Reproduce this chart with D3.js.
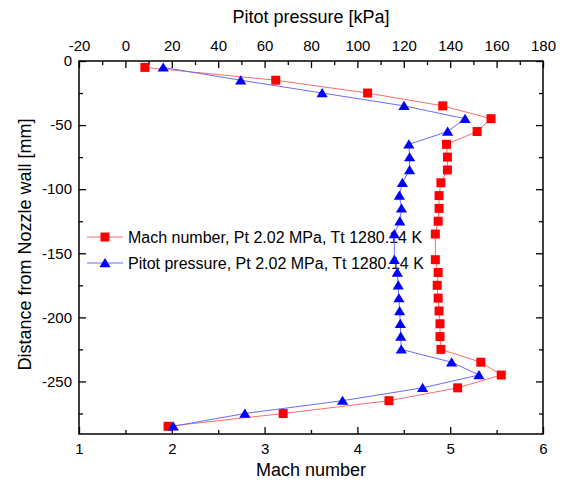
<!DOCTYPE html>
<html>
<head>
<meta charset="utf-8">
<script src="https://cdn.jsdelivr.net/npm/d3@7"></script>
<style>
  body { margin: 0; background: #fff; }
  text { font-family: "Liberation Sans", Arial, sans-serif; fill: #000; }
</style>
</head>
<body>
<script>
// ---- data ----
const depth = [-5, -15, -25, -35, -45, -55, -65, -75, -85, -95, -105, -115, -125, -135,
  -155, -165, -175, -185, -195, -205, -215, -225, -235, -245, -255, -265, -275, -285];

const mach = [1.71, 3.12, 4.11, 4.92, 5.44, 5.29, 4.96, 4.97, 4.97, 4.90, 4.88, 4.88, 4.87, 4.84,
  4.84, 4.87, 4.86, 4.87, 4.88, 4.89, 4.89, 4.90, 5.33, 5.55, 5.08, 4.34, 3.20, 1.96];

const pitot = [16.3, 49.7, 84.8, 120.1, 146.4, 138.9, 122.2, 122.5, 122.5, 119.4, 118.1, 119.0, 118.3, 115.9,
  115.9, 117.2, 117.6, 117.9, 118.2, 118.5, 118.7, 118.9, 140.6, 152.4, 128.1, 93.6, 51.5, 20.6];

const machTicks = [1, 2, 3, 4, 5, 6];
const pitotTicks = [-20, 0, 20, 40, 60, 80, 100, 120, 140, 160, 180];
const depthTicks = [0, -50, -100, -150, -200, -250];

const legendLabels = [
  'Mach number, Pt 2.02 MPa, Tt 1280.14 K',
  'Pitot pressure, Pt 2.02 MPa, Tt 1280.14 K'
];

// ---- layout ----
const W = 564, H = 490;
const m = { left: 79, right: 543, top: 61, bottom: 434 };

const svg = d3.select('body').append('svg')
  .attr('width', W)
  .attr('height', H);

const x = d3.scaleLinear().domain([1, 6]).range([m.left, m.right]);
const xp = d3.scaleLinear().domain([-20, 180]).range([m.left, m.right]);
const y = d3.scaleLinear().domain([-291, 0]).range([m.bottom, m.top]);

const red = '#ff0000', redLine = '#ff6b6b';
const blue = '#0000ff', blueLine = '#6b6bff';

// minor tick values
const machMinor = d3.range(1.5, 6, 1);
const pitotMinor = d3.range(-10, 180, 20);
const depthMinor = d3.range(-25, -291, -50);

// plain hyphen for negatives, like the original
const fmt = d => String(d);

function styleAxis(g) {
  g.select('.domain').remove();
  g.selectAll('.tick line').attr('stroke', '#000').attr('stroke-width', 1.3);
  g.selectAll('.tick text').style('font-size', '15px');
}

// bottom (Mach)
svg.append('g').attr('transform', `translate(0,${m.bottom})`)
  .call(d3.axisBottom(x).tickValues(machTicks).tickFormat(fmt).tickSize(-7).tickPadding(9))
  .call(styleAxis);
svg.append('g').attr('transform', `translate(0,${m.bottom})`)
  .call(d3.axisBottom(x).tickValues(machMinor).tickFormat('').tickSize(-4))
  .call(styleAxis);

// top (Pitot)
svg.append('g').attr('transform', `translate(0,${m.top})`)
  .call(d3.axisTop(xp).tickValues(pitotTicks).tickFormat(fmt).tickSize(-7).tickPadding(10))
  .call(styleAxis);
svg.append('g').attr('transform', `translate(0,${m.top})`)
  .call(d3.axisTop(xp).tickValues(pitotMinor).tickFormat('').tickSize(-4))
  .call(styleAxis);

// left (depth)
svg.append('g').attr('transform', `translate(${m.left},0)`)
  .call(d3.axisLeft(y).tickValues(depthTicks).tickFormat(fmt).tickSize(-7).tickPadding(7))
  .call(styleAxis);
svg.append('g').attr('transform', `translate(${m.left},0)`)
  .call(d3.axisLeft(y).tickValues(depthMinor).tickFormat('').tickSize(-4))
  .call(styleAxis);

// right (no labels)
svg.append('g').attr('transform', `translate(${m.right},0)`)
  .call(d3.axisRight(y).tickValues(depthTicks).tickFormat('').tickSize(-7))
  .call(styleAxis);
svg.append('g').attr('transform', `translate(${m.right},0)`)
  .call(d3.axisRight(y).tickValues(depthMinor).tickFormat('').tickSize(-4))
  .call(styleAxis);

// frame
svg.append('rect')
  .attr('x', m.left).attr('y', m.top)
  .attr('width', m.right - m.left).attr('height', m.bottom - m.top)
  .attr('fill', 'none').attr('stroke', '#000').attr('stroke-width', 1.5);

// axis titles
svg.append('text')
  .attr('x', (m.left + m.right) / 2).attr('y', 23)
  .attr('text-anchor', 'middle').style('font-size', '18px')
  .text('Pitot pressure [kPa]');

svg.append('text')
  .attr('x', (m.left + m.right) / 2).attr('y', 476)
  .attr('text-anchor', 'middle').style('font-size', '18px')
  .text('Mach number');

svg.append('text')
  .attr('transform', `translate(31,${(m.top + m.bottom) / 2 - 3}) rotate(-90)`)
  .attr('text-anchor', 'middle').style('font-size', '18px')
  .text('Distance from Nozzle wall [mm]');

// markers
const square = 'M-4.5,-4.5H4.5V4.5H-4.5Z';
const triangle = 'M0,-5L5.6,4.2L-5.6,4.2Z';

// legend
const legendRows = [
  { label: legendLabels[0], line: redLine, fill: red, shape: square },
  { label: legendLabels[1], line: blueLine, fill: blue, shape: triangle }
];
const lg = svg.append('g').selectAll('g')
  .data(legendRows)
  .enter().append('g')
  .attr('transform', (d, i) => `translate(0,${237 + i * 26})`);
lg.append('line')
  .attr('x1', 87).attr('x2', 123)
  .attr('stroke', d => d.line).attr('stroke-width', 1);
lg.append('path')
  .attr('transform', 'translate(105,0)')
  .attr('d', d => d.shape)
  .attr('fill', d => d.fill);
lg.append('text')
  .attr('x', 128).attr('dy', '0.35em')
  .style('font-size', '16px')
  .text(d => d.label);

// series
const machPts = depth.map((d, i) => [x(mach[i]), y(d)]);
const pitotPts = depth.map((d, i) => [xp(pitot[i]), y(d)]);

svg.append('path')
  .attr('d', d3.line()(machPts))
  .attr('fill', 'none').attr('stroke', redLine).attr('stroke-width', 1);
svg.append('g').selectAll('path')
  .data(machPts)
  .enter().append('path')
  .attr('transform', d => `translate(${d[0]},${d[1]})`)
  .attr('d', square)
  .attr('fill', red);

svg.append('path')
  .attr('d', d3.line()(pitotPts))
  .attr('fill', 'none').attr('stroke', blueLine).attr('stroke-width', 1);
svg.append('g').selectAll('path')
  .data(pitotPts)
  .enter().append('path')
  .attr('transform', d => `translate(${d[0]},${d[1]})`)
  .attr('d', triangle)
  .attr('fill', blue);
</script>
</body>
</html>
